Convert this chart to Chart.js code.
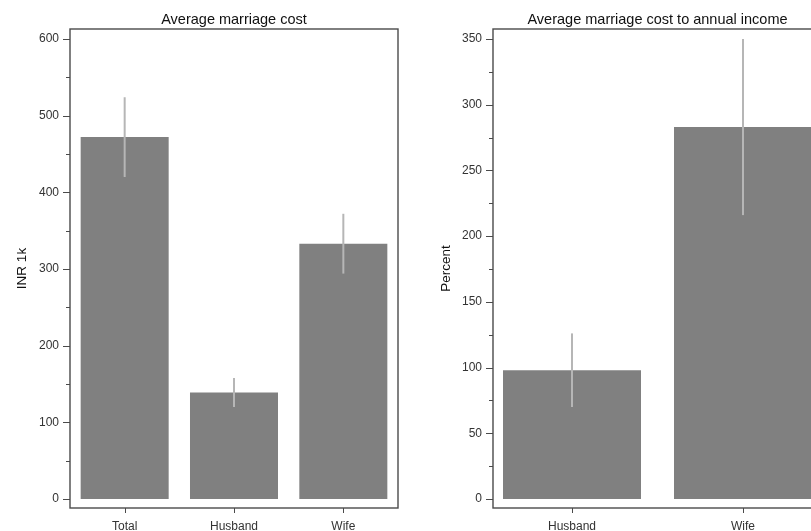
<!DOCTYPE html>
<html>
<head>
<meta charset="utf-8">
<script src="https://cdn.jsdelivr.net/npm/chart.js@4.4.1/dist/chart.umd.min.js"></script>
<style>
    html, body { margin: 0; padding: 0; background: #fff; overflow: hidden; width: 811px; height: 531px; }
    .panel { position: absolute; top: 0; height: 531px; }
    #left { left: 0; width: 405px; }
    #right { left: 420px; width: 409px; }
</style>
</head>
<body>
<div class="panel" id="left"><canvas id="costChart"></canvas></div>
<div class="panel" id="right"><canvas id="ratioChart"></canvas></div>
<script>
// -------------------------------------------------------
// DATA
// -------------------------------------------------------
const costLabels = ['Total', 'Husband', 'Wife'];
const costMeans = [472, 139, 333];
const costErrors = [52, 19, 39];
const costMajorTicks = [0, 100, 200, 300, 400, 500, 600];
const costMinorTicks = [50, 150, 250, 350, 450, 550];

const ratioLabels = ['Husband', 'Wife'];
const ratioMeans = [98, 283];
const ratioErrors = [28, 67];
const ratioMajorTicks = [0, 50, 100, 150, 200, 250, 300, 350];
const ratioMinorTicks = [25, 75, 125, 175, 225, 275, 325];

Chart.defaults.font.family = '"Liberation Sans", Arial, sans-serif';
Chart.defaults.animation = false;

const BAR_GREY = '#808080';
const ERR_GREY = '#b6b6b6';
const AXIS_GREY = '#4a4a4a';

// -------------------------------------------------------
// Plugin: box frame, tick marks and error bars
// -------------------------------------------------------
const boxPlugin = {
    id: 'boxAndErrors',
    afterDatasetsDraw(chart, args, opts) {
        const ctx = chart.ctx;
        const area = chart.chartArea;
        const ys = chart.scales.y;
        const meta = chart.getDatasetMeta(0);
        ctx.save();

        // error bars
        ctx.strokeStyle = ERR_GREY;
        ctx.lineWidth = 2;
        meta.data.forEach((bar, i) => {
            const mean = opts.means[i];
            const err = opts.errors[i];
            ctx.beginPath();
            ctx.moveTo(bar.x, ys.getPixelForValue(mean + err));
            ctx.lineTo(bar.x, ys.getPixelForValue(mean - err));
            ctx.stroke();
        });

        // frame
        ctx.strokeStyle = AXIS_GREY;
        ctx.lineWidth = 1.4;
        ctx.strokeRect(area.left, area.top, area.right - area.left, area.bottom - area.top);

        // y tick marks
        ctx.lineWidth = 1;
        const tick = (v, len) => {
            const py = Math.round(ys.getPixelForValue(v)) + 0.5;
            ctx.beginPath();
            ctx.moveTo(area.left - len, py);
            ctx.lineTo(area.left, py);
            ctx.stroke();
        };
        opts.major.forEach(v => tick(v, 7));
        opts.minor.forEach(v => tick(v, 4));

        // x tick marks
        meta.data.forEach(bar => {
            const px = Math.round(bar.x) + 0.5;
            ctx.beginPath();
            ctx.moveTo(px, area.bottom);
            ctx.lineTo(px, area.bottom + 5);
            ctx.stroke();
        });

        ctx.restore();
    }
};

function titleOpts(text) {
    return {
        display: true,
        fullSize: false,
        text: text,
        color: '#111',
        font: { size: 14.5, weight: 'normal' },
        padding: { top: 11.3, bottom: 0.3 }
    };
}

function yAxis(min, max, majors, title, titlePad, width) {
    return {
        min: min,
        max: max,
        afterBuildTicks: s => { s.ticks = majors.map(v => ({ value: v })); },
        afterFit: s => { s.width = width; },
        grid: { display: false, drawTicks: false, tickLength: 0 },
        border: { display: false },
        ticks: { padding: 11, color: '#333', font: { size: 12 } },
        title: {
            display: true,
            text: title,
            color: '#111',
            font: { size: 13.5 },
            padding: { top: titlePad, bottom: 0 }
        }
    };
}

function xAxis(extra) {
    return Object.assign({
        afterFit: s => { s.height = 23; },
        grid: { display: false, drawTicks: false, tickLength: 0 },
        border: { display: false },
        ticks: { padding: 11, color: '#333', font: { size: 12 } }
    }, extra);
}

// -------------------------------------------------------
// Chart 1: average marriage cost
// -------------------------------------------------------
new Chart(document.getElementById('costChart'), {
    type: 'bar',
    data: {
        labels: costLabels,
        datasets: [{
            data: costMeans,
            backgroundColor: BAR_GREY,
            borderWidth: 0,
            categoryPercentage: 1,
            barPercentage: 0.805
        }]
    },
    options: {
        responsive: true,
        maintainAspectRatio: false,
        layout: { padding: { left: 0, right: 7, top: 0, bottom: 0 } },
        plugins: {
            legend: { display: false },
            tooltip: { enabled: false },
            title: titleOpts('Average marriage cost'),
            boxAndErrors: { means: costMeans, errors: costErrors, major: costMajorTicks, minor: costMinorTicks }
        },
        scales: {
            x: xAxis({ type: 'category', offset: true }),
            y: yAxis(-11.7, 613, costMajorTicks, 'INR 1k', 14, 70)
        }
    },
    plugins: [boxPlugin]
});

// -------------------------------------------------------
// Chart 2: cost relative to annual income
// -------------------------------------------------------
const ratioX = xAxis({
    type: 'linear',
    offset: false,
    min: -0.462,
    max: 1.462,
    afterBuildTicks: s => { s.ticks = ratioLabels.map((_, i) => ({ value: i })); }
});
ratioX.ticks.callback = v => ratioLabels[v];

new Chart(document.getElementById('ratioChart'), {
    type: 'bar',
    data: {
        datasets: [{
            data: ratioMeans.map((v, i) => ({ x: i, y: v })),
            backgroundColor: BAR_GREY,
            borderWidth: 0,
            categoryPercentage: 1,
            barPercentage: 0.807
        }]
    },
    options: {
        responsive: true,
        maintainAspectRatio: false,
        layout: { padding: { left: 0, right: 7, top: 0, bottom: 0 } },
        plugins: {
            legend: { display: false },
            tooltip: { enabled: false },
            title: titleOpts('Average marriage cost to annual income'),
            boxAndErrors: { means: ratioMeans, errors: ratioErrors, major: ratioMajorTicks, minor: ratioMinorTicks }
        },
        scales: {
            x: ratioX,
            y: yAxis(-6.85, 357.6, ratioMajorTicks, 'Percent', 18, 73)
        }
    },
    plugins: [boxPlugin]
});
</script>
</body>
</html>
